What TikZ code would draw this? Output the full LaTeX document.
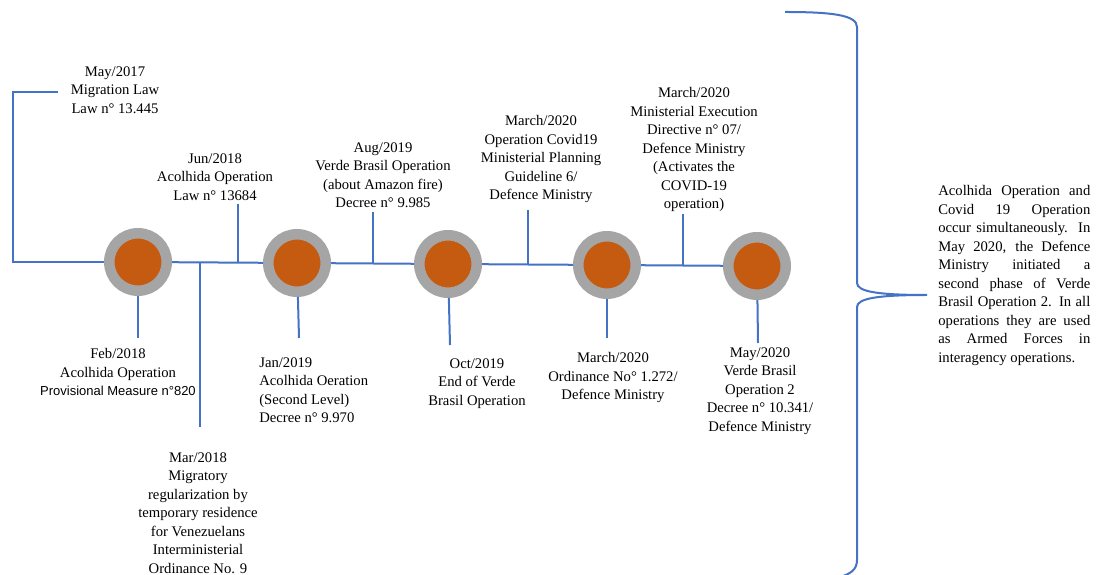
\documentclass[tikz,border=0pt]{standalone}
\usepackage{fontspec}
\setmainfont{Liberation Serif}
\newfontfamily\arialfont{Liberation Sans}
\definecolor{lineblue}{HTML}{4472C4}
\definecolor{ringgray}{HTML}{A5A5A5}
\definecolor{dotorange}{HTML}{C55A11}
\newcommand\fillline[1]{\makebox[91.2pt][s]{#1}}
\tikzset{
  evt/.style={circle, draw=ringgray, line width=6.3pt, fill=dotorange,
    minimum size=34.5pt, inner sep=0pt},
  stem/.style={draw=lineblue, line width=1.2pt},
  evtext/.style={align=center, inner sep=0pt, anchor=north,
    font=\fontsize{8.8pt}{11.1pt}\selectfont},
}
\begin{document}
\begin{tikzpicture}[x=0.6pt, y=-0.6pt]
  \useasboundingbox (0,0) rectangle (1096,575);
  % events on the axis
  \node[evt] (c1) at (138,262) {};
  \node[evt] (c2) at (297,263) {};
  \node[evt] (c3) at (448,264) {};
  \node[evt] (c4) at (607,265) {};
  \node[evt] (c5) at (757,266) {};

  % axis
  \coordinate (b-top) at (58,92);
  \coordinate (b-low) at (13,262);
  \draw[stem] (b-top) -| (b-low) -- (c1);
  \draw[stem] (c1) -- (c2);
  \draw[stem] (c2) -- (c3);
  \draw[stem] (c3) -- (c4);
  \draw[stem] (c4) -- (c5);

  % ticks
  \coordinate (j-jun18) at (238,262.6);
  \coordinate (e-jun18) at (238,204);
  \coordinate (j-mar18) at (200,262.4);
  \coordinate (e-mar18) at (200,427);
  \coordinate (e-feb18) at (138,338);
  \coordinate (e-jan19) at (299,338);
  \coordinate (j-aug19) at (373,263.5);
  \coordinate (e-aug19) at (373,212);
  \coordinate (e-oct19) at (450,345);
  \coordinate (j-mar20a) at (528,264.6);
  \coordinate (e-mar20a) at (528,210);
  \coordinate (e-mar20b) at (607,338);
  \coordinate (j-mar20c) at (683,265.5);
  \coordinate (e-mar20c) at (683,214);
  \coordinate (e-may20) at (758,343);
  \draw[stem] (j-jun18) -- (e-jun18);
  \draw[stem] (j-mar18) -- (e-mar18);
  \draw[stem] (c1) -- (e-feb18);
  \draw[stem] (c2) -- (e-jan19);
  \draw[stem] (j-aug19) -- (e-aug19);
  \draw[stem] (c3) -- (e-oct19);
  \draw[stem] (j-mar20a) -- (e-mar20a);
  \draw[stem] (c4) -- (e-mar20b);
  \draw[stem] (j-mar20c) -- (e-mar20c);
  \draw[stem] (c5) -- (e-may20);

  % texts
  \node[evtext] (may17) at (115,66) {May/2017\\Migration Law\\Law n° 13.445};
  \node[evtext] (jun18) at (215,153) {Jun/2018\\Acolhida Operation\\Law n° 13684};
  \node[evtext] (feb18) at (118,348) {Feb/2018\\Acolhida Operation\\
    {\arialfont\fontsize{7.8pt}{11.1pt}\selectfont Provisional Measure n°820}};
  \node[evtext] (mar18) at (198,452) {Mar/2018\\Migratory\\regularization by\\
    temporary residence\\for Venezuelans\\Interministerial\\Ordinance No. 9};
  \node[evtext, anchor=north west, align=left] (jan19) at (259,357)
    {Jan/2019\\Acolhida Oeration\\(Second Level)\\Decree n° 9.970};
  \node[evtext] (aug19) at (383,142) {Aug/2019\\Verde Brasil Operation\\
    (about Amazon fire)\\Decree n° 9.985};
  \node[evtext] (oct19) at (477,358) {Oct/2019\\End of Verde\\Brasil Operation};
  \node[evtext] (mar20a) at (541,115) {March/2020\\Operation Covid19\\
    Ministerial Planning\\Guideline 6/\\Defence Ministry};
  \node[evtext] (mar20b) at (613,352) {March/2020\\Ordinance No° 1.272/\\Defence Ministry};
  \node[evtext] (mar20c) at (694,87) {March/2020\\Ministerial Execution\\
    Directive n° 07/\\Defence Ministry\\(Activates the\\COVID-19\\operation)};
  \node[evtext] (may20) at (760,347) {May/2020\\Verde Brasil\\Operation 2\\
    Decree n° 10.341/\\Defence Ministry};

  % brace and note
  \coordinate (br-tip) at (927,295);
  \draw[stem] (785,12) .. controls (832,12) and (857,15) .. (857,27)
    -- (857,283) .. controls (857,292) and (880,295) .. (br-tip)
    .. controls (880,295) and (857,298) .. (857,307)
    -- (857,560) .. controls (857,570) and (850,574) .. (840,577);
  \node[evtext, anchor=north west, align=left] (note) at (938,185)
    {\fillline{Acolhida Operation and}\\\fillline{Covid 19 Operation}\\
     \fillline{occur simultaneously. In}\\\fillline{May 2020, the Defence}\\
     \fillline{Ministry initiated a}\\\fillline{second phase of Verde}\\
     \fillline{Brasil Operation 2. In all}\\\fillline{operations they are used}\\
     \fillline{as Armed Forces in}\\interagency operations.};
\end{tikzpicture}
\end{document}
